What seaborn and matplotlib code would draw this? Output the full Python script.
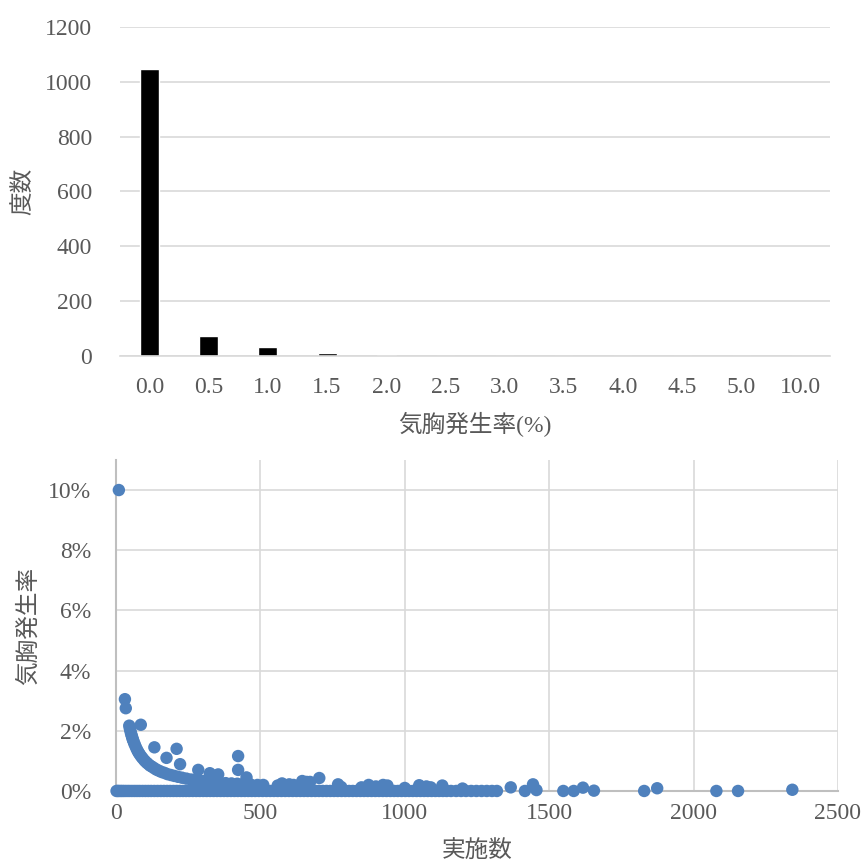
import matplotlib
matplotlib.use("Agg")
import matplotlib.pyplot as plt
import seaborn as sns
import pandas as pd

# 度数分布（上段）
rate_bins = ["0.0", "0.5", "1.0", "1.5", "2.0", "2.5", "3.0", "3.5", "4.0", "4.5", "5.0", "10.0"]
bin_counts = [1047, 74, 32, 12, 5, 0, 0, 0, 0, 0, 0, 0]

# 実施数 vs 気胸発生率（下段）: 発生率 0% の施設
zero_x = [2, 6, 11, 17, 23, 30, 38, 46, 55, 64, 73, 82, 92, 102, 112, 122, 133, 144,
          155, 166, 177, 188, 199, 210, 221, 232, 243, 254, 266, 278, 290, 302, 314,
          326, 338, 350, 362, 374, 386, 398, 410, 422, 434, 446, 458, 470, 482, 495,
          508, 521, 534, 547, 560, 573, 586, 599, 612, 625, 638, 651, 664, 677, 690,
          703, 716, 729, 742, 755, 768, 781, 794, 807, 820, 833, 846, 859, 872, 885,
          898, 911, 924, 937, 950, 963, 976, 989, 1002, 1015, 1028, 1041, 1054, 1067,
          1080, 1093, 1106, 1119, 1132, 1145, 1160, 1178, 1195, 1212, 1230, 1248,
          1266, 1284, 1302, 1319, 1416, 1549, 1585, 1829, 2079, 2154]

# 発生率 > 0 の施設
pos_x = [10, 31, 34, 86, 133, 175, 210, 222, 285, 325, 354, 423, 423, 452,
         46, 48, 50, 52, 54, 56, 58, 60, 63, 66, 70, 74, 78, 82, 87, 92, 98,
         104, 110, 117, 124, 132, 140, 149, 158, 168, 178, 190, 202, 215, 229,
         244, 260, 275, 290, 305, 320, 340, 360, 380, 400, 420, 440, 465, 490, 510,
         560, 575, 600, 615, 645, 660, 672, 704, 769, 780, 850, 875, 900, 925, 940,
         1000, 1050, 1075, 1090, 1130, 1200, 1367, 1444, 1456, 1617, 1655, 1874, 2342]
pos_rate = [10.0, 3.05, 2.75, 2.2, 1.45, 1.1, 1.4, 0.89, 0.7, 0.59, 0.55, 1.16, 0.7, 0.45,
            2.17, 2.08, 2.0, 1.92, 1.85, 1.79, 1.72, 1.67, 1.59, 1.52, 1.43, 1.35, 1.28,
            1.22, 1.15, 1.09, 1.02, 0.96, 0.91, 0.85, 0.81, 0.76, 0.71, 0.67, 0.63, 0.6,
            0.56, 0.53, 0.5, 0.47, 0.44, 0.41, 0.38, 0.36, 0.34, 0.33, 0.31, 0.29, 0.28,
            0.26, 0.25, 0.24, 0.23, 0.22, 0.2, 0.2,
            0.18, 0.25, 0.22, 0.2, 0.33, 0.3, 0.3, 0.43, 0.22, 0.13, 0.12, 0.2, 0.15, 0.2,
            0.18, 0.1, 0.19, 0.15, 0.12, 0.18, 0.08, 0.12, 0.22, 0.03, 0.11, 0.01, 0.09, 0.04]

hist_df = pd.DataFrame({"bin": rate_bins, "count": bin_counts})
scatter_df = pd.DataFrame({
    "n": zero_x + pos_x,
    "rate": [0.0] * len(zero_x) + pos_rate,
})

sns.set_style("white")
plt.rcParams["font.family"] = ["Liberation Serif", "Noto Sans CJK JP"]

gray = "#595959"
grid = "#d9d9d9"
blue = "#4f81bd"
cjk = ["Noto Sans CJK JP", "DejaVu Sans"]
fs = 17

fig = plt.figure(figsize=(8.68, 8.67), dpi=100)
ax1 = fig.add_axes([0.1382, 0.5894, 0.818, 0.3795])
ax2 = fig.add_axes([0.1336, 0.0877, 0.8318, 0.3818])

# 上段: ヒストグラム
sns.barplot(data=hist_df, x="bin", y="count", color="black", width=0.32,
            saturation=1, ax=ax1)
ax1.set_ylim(0, 1200)
ax1.set_xlim(-0.5, 11.5)
ax1.set_yticks(range(0, 1201, 200))
ax1.yaxis.grid(True, color=grid, linewidth=1.2)
ax1.set_axisbelow(True)
for s in ["top", "right", "left"]:
    ax1.spines[s].set_visible(False)
ax1.spines["bottom"].set_color(grid)
ax1.spines["bottom"].set_linewidth(1.2)
ax1.tick_params(axis="both", length=0, labelsize=fs, labelcolor=gray)
ax1.tick_params(axis="x", pad=15)
ax1.tick_params(axis="y", pad=20)
ax1.set_xlabel("気胸発生率(%)", fontsize=fs, color=gray,
               family=["Liberation Serif", "Noto Sans CJK JP"], labelpad=10)
ax1.set_ylabel("度数", fontsize=fs, color=gray, family=cjk, labelpad=8)

# 下段: 散布図
sns.scatterplot(data=scatter_df, x="n", y="rate", color=blue, s=80,
                edgecolor="none", linewidth=0, ax=ax2, zorder=3, clip_on=False)
ax2.set_xlim(0, 2500)
ax2.set_ylim(0, 11)
ax2.set_xticks(range(0, 2501, 500))
ax2.set_yticks(range(0, 11, 2))
ax2.set_yticklabels([f"{v}%" for v in range(0, 11, 2)])
ax2.grid(True, color=grid, linewidth=1.2)
ax2.set_axisbelow(True)
for s in ["top", "right"]:
    ax2.spines[s].set_visible(False)
for s in ["left", "bottom"]:
    ax2.spines[s].set_color("#bfbfbf")
    ax2.spines[s].set_linewidth(1.5)
ax2.tick_params(axis="both", length=0, labelsize=fs, labelcolor=gray)
ax2.tick_params(axis="x", pad=9)
ax2.tick_params(axis="y", pad=18)
ax2.set_xlabel("実施数", fontsize=fs, color=gray, family=cjk, labelpad=11)
ax2.set_ylabel("気胸発生率", fontsize=fs, color=gray, family=cjk, labelpad=6)

fig.savefig("out.png", dpi=100)
